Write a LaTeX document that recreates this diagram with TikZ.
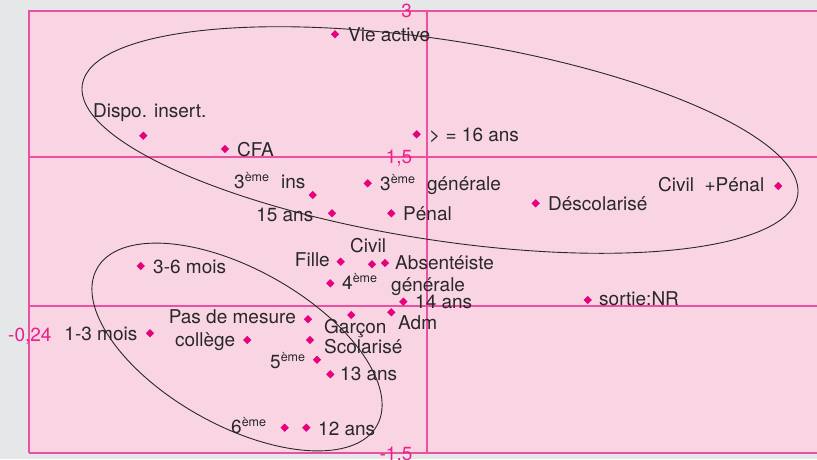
\documentclass[tikz,border=0pt]{standalone}
\usepackage{fontspec}
\setmainfont{TeX Gyre Heros}
\usetikzlibrary{shapes.geometric}
\definecolor{bggray}{RGB}{230,231,233}
\definecolor{panel}{RGB}{249,213,228}
\definecolor{axis}{RGB}{236,80,160}
\definecolor{mark}{RGB}{230,0,126}
\definecolor{tick}{RGB}{236,30,140}
\definecolor{ink}{RGB}{40,40,40}
\newcommand\ieme{\raisebox{6.5pt}{\fontsize{12.5}{12.5}\selectfont ème}}
\begin{document}
\begin{tikzpicture}[x=1pt,y=-1pt,
  pt/.style={diamond,fill=mark,draw=none,inner sep=0pt,minimum size=8.5pt},
  lbl/.style={inner sep=0pt,anchor=base west,text=ink,font=\fontsize{19}{22}\selectfont},
  lble/.style={lbl,anchor=base east},
  ticklbl/.style={inner sep=0pt,anchor=base,text=tick,font=\fontsize{19}{22}\selectfont},
  axisline/.style={draw=axis,line width=1.7pt},
  ring/.style={draw=ink,line width=0.9pt}]
\useasboundingbox (0,0) rectangle (817,459);
\fill[bggray] (0,0) rectangle (817,459);
\fill[panel] (29,11) rectangle (817,453);
% frame and axes
\coordinate (tl) at (29,11);
\coordinate (tr) at (817,11);
\coordinate (bl) at (29,453);
\coordinate (br) at (817,453);
\coordinate (h1l) at (29,157.3);
\coordinate (h1r) at (817,157.3);
\coordinate (h2l) at (29,305.7);
\coordinate (h2r) at (817,305.7);
\coordinate (vt) at (426.7,11);
\coordinate (vb) at (426.7,453);
\draw[axisline] (bl) -- (tl) -- (tr);
\draw[axisline] (bl) -- (br);
\draw[axisline] (h1l) -- (h1r);
\draw[axisline] (h2l) -- (h2r);
\draw[axisline] (vt) -- (vb);
% tick labels
\node[ticklbl] (t3) at (406.7,17) {3};
\node[ticklbl] (t15) at (399,163.3) {1,5};
\node[ticklbl,anchor=base west] (t024) at (8,341.7) {-0,24};
\node[ticklbl] (tm15) at (396,460.5) {-1,5};
% ellipses
\draw[ring,rotate around={-8.8:(440,140)}] (440,140) ellipse [x radius=362pt, y radius=100pt];
\draw[ring,rotate around={-29.3:(237,347)}] (237,347) ellipse [x radius=160.5pt, y radius=78pt];
% markers
\node[pt] (m-vie) at (335,34.3) {};
\node[pt] (m-dispo) at (143.3,135.7) {};
\node[pt] (m-cfa) at (225,149) {};
\node[pt] (m-ge16) at (416.7,134.3) {};
\node[pt] (m-ins) at (312.7,195) {};
\node[pt] (m-gen3) at (367.7,183.3) {};
\node[pt] (m-15) at (332,213.3) {};
\node[pt] (m-penal) at (391.3,213.3) {};
\node[pt] (m-desco) at (535.7,203.3) {};
\node[pt] (m-civpen) at (778.3,186) {};
\node[pt] (m-fille) at (340.7,261.7) {};
\node[pt] (m-civil) at (372,264.3) {};
\node[pt] (m-absent) at (385,263) {};
\node[pt] (m-4) at (330.3,283.3) {};
\node[pt] (m-14) at (403.3,301.7) {};
\node[pt] (m-sortie) at (587.7,300) {};
\node[pt] (m-adm) at (391.3,312.3) {};
\node[pt] (m-pas) at (308,319.3) {};
\node[pt] (m-garcon) at (351.3,315) {};
\node[pt] (m-scol) at (310,340) {};
\node[pt] (m-college) at (247.3,340) {};
\node[pt] (m-13mois) at (150,333.3) {};
\node[pt] (m-36mois) at (140.7,266) {};
\node[pt] (m-5) at (317,359.7) {};
\node[pt] (m-13) at (330.3,374.3) {};
\node[pt] (m-6) at (284.7,427.7) {};
\node[pt] (m-12) at (306.3,427.7) {};
% labels
\node[lbl] (l-vie) at (348,41.7) {Vie active};
\node[lbl] (l-dispo) at (93,117.3) {Dispo. insert.};
\node[lbl] (l-cfa) at (237,156.7) {CFA};
\node[lbl] (l-ge16) at (429,141.7) {> = 16 ans};
\node[lbl] (l-ins) at (234,188.3) {3\ieme\hspace{12pt}ins};
\node[lbl] (l-gen3) at (380,190) {3\ieme\hspace{12pt}générale};
\node[lble] (l-15) at (313.5,221.7) {15 ans};
\node[lbl] (l-penal) at (403,220) {Pénal};
\node[lbl] (l-desco) at (548,210) {Déscolarisé};
\node[lbl] (l-civpen) at (658,191.7) {Civil\hspace{10.5pt}+Pénal};
\node[lble] (l-fille) at (330,266) {Fille};
\node[lbl] (l-civil) at (350,252) {Civil};
\node[lbl] (l-absent) at (395,269) {Absentéiste};
\node[lbl] (l-4) at (342,289) {4\ieme};
\node[lbl] (l-gen4) at (391,291) {générale};
\node[lbl] (l-14) at (415,308) {14 ans};
\node[lbl] (l-sortie) at (599,305) {sortie:NR};
\node[lbl] (l-adm) at (398,329) {Adm};
\node[lble] (l-pas) at (296,323.3) {Pas de mesure};
\node[lble] (l-college) at (235.5,346.7) {collège};
\node[lbl] (l-garcon) at (324,333.3) {Garçon};
\node[lbl] (l-scol) at (324,353.3) {Scolarisé};
\node[lble] (l-13mois) at (137.5,340) {1-3 mois};
\node[lbl] (l-36mois) at (153,273) {3-6 mois};
\node[lbl] (l-5) at (270,368) {5\ieme};
\node[lbl] (l-13) at (340,380.7) {13 ans};
\node[lbl] (l-6) at (231,433) {6\ieme};
\node[lbl] (l-12) at (318,435.3) {12 ans};
\end{tikzpicture}
\end{document}
